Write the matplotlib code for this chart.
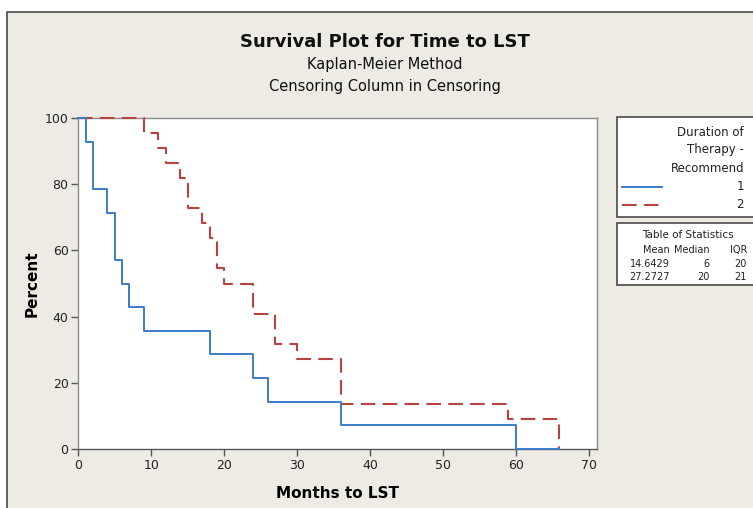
import matplotlib
matplotlib.use('Agg')
import matplotlib.pyplot as plt
from matplotlib.patches import Rectangle
from matplotlib.lines import Line2D

plt.rcParams['font.family'] = ['DejaVu Sans']

# Kaplan-Meier estimates (percent surviving)
months_1 = [0, 1, 2, 4, 5, 6, 7, 9, 18, 24, 26, 36, 60, 66]
surv_1 = [100, 92.86, 78.57, 71.43, 57.14, 50.0, 42.86, 35.71, 28.57, 21.43, 14.29, 7.14, 0, 0]
months_2 = [0, 9, 11, 12, 14, 15, 17, 18, 19, 20, 24, 27, 30, 36, 59, 66]
surv_2 = [100, 95.45, 90.91, 86.36, 81.82, 72.73, 68.18, 63.64, 54.55, 50.0, 40.91, 31.82, 27.27, 13.64, 9.09, 0]

groups = ['1', '2']
stat_mean = ['14.6429', '27.2727']
stat_median = ['6', '20']
stat_iqr = ['20', '21']

W, H = 753, 508
blue = '#3d7cc9'
red = '#b8423f'
bg = '#eeebe5'
edge = '#4a4a4a'


def fx(x):
    return x / W


def fy(y):
    return 1 - y / H


fig = plt.figure(figsize=(W / 100, H / 100), dpi=100, facecolor='white')

# outer frame (beige panel with dark border)
fig.patches.append(Rectangle((fx(7), fy(520)), fx(760) - fx(7), fy(12) - fy(520),
                             transform=fig.transFigure, facecolor=bg, edgecolor=edge,
                             lw=1.2, zorder=0))

ax = fig.add_axes([fx(78.3), fy(449), fx(597.3) - fx(78.3), fy(118) - fy(449)])
ax.set_zorder(2)
ax.set_facecolor('white')

ax.step(months_2, surv_2, where='post', color=red, lw=1.5,
        linestyle=(0, (7, 3.5)), clip_on=False, zorder=3)
ax.step(months_1, surv_1, where='post', color=blue, lw=1.4, clip_on=False, zorder=4)

ax.set_xlim(0, 71.2)
ax.set_ylim(0, 100)
ax.set_xticks(range(0, 71, 10))
ax.set_yticks(range(0, 101, 20))
ax.tick_params(direction='out', length=5, width=1, color='#555555',
               labelsize=9, labelcolor='#222222', pad=2)
for s in ax.spines.values():
    s.set_color('#8a8a8a')
    s.set_linewidth(1.0)
ax.spines['bottom'].set_color('#555555')
ax.set_xlabel('Months to LST', fontsize=11, fontweight='bold', labelpad=10)
ax.set_ylabel('Percent', fontsize=11, fontweight='bold', labelpad=4)

# titles
fig.text(fx(385), fy(42), 'Survival Plot for Time to LST', ha='center', va='center',
         fontsize=13, fontweight='bold', color='#111111')
fig.text(fx(385), fy(65), 'Kaplan-Meier Method', ha='center', va='center',
         fontsize=10.5, color='#111111')
fig.text(fx(385), fy(87), 'Censoring Column in Censoring', ha='center', va='center',
         fontsize=10.5, color='#111111')

# legend box
fig.patches.append(Rectangle((fx(617), fy(217)), fx(770) - fx(617), fy(117) - fy(217),
                             transform=fig.transFigure, facecolor='white', edgecolor=edge,
                             lw=1.2, zorder=1))
for txt, y in zip(['Duration of', 'Therapy -', 'Recommend'], [132, 150, 168]):
    fig.text(fx(744), fy(y), txt, ha='right', va='center', fontsize=8.5, color='#222222')
fig.lines.append(Line2D([fx(622), fx(662)], [fy(187), fy(187)], transform=fig.transFigure,
                        color=blue, lw=1.4))
fig.lines.append(Line2D([fx(622), fx(662)], [fy(205), fy(205)], transform=fig.transFigure,
                        color=red, lw=1.5, linestyle=(0, (7, 3.5))))
for g, y in zip(groups, [187, 205]):
    fig.text(fx(744), fy(y), g, ha='right', va='center', fontsize=8.5, color='#222222')

# table of statistics
fig.patches.append(Rectangle((fx(617), fy(285)), fx(770) - fx(617), fy(223) - fy(285),
                             transform=fig.transFigure, facecolor='white', edgecolor=edge,
                             lw=1.2, zorder=1))
fig.text(fx(688), fy(235), 'Table of Statistics', ha='center', va='center',
         fontsize=7.5, color='#222222')
for txt, x in zip(['Mean', 'Median', 'IQR'], [670, 710, 747]):
    fig.text(fx(x), fy(250), txt, ha='right', va='center', fontsize=7, color='#222222')
for i, y in enumerate([264, 277]):
    fig.text(fx(670), fy(y), stat_mean[i], ha='right', va='center', fontsize=7, color='#222222')
    fig.text(fx(710), fy(y), stat_median[i], ha='right', va='center', fontsize=7, color='#222222')
    fig.text(fx(747), fy(y), stat_iqr[i], ha='right', va='center', fontsize=7, color='#222222')

fig.savefig('out.png', dpi=100, facecolor=fig.get_facecolor())
